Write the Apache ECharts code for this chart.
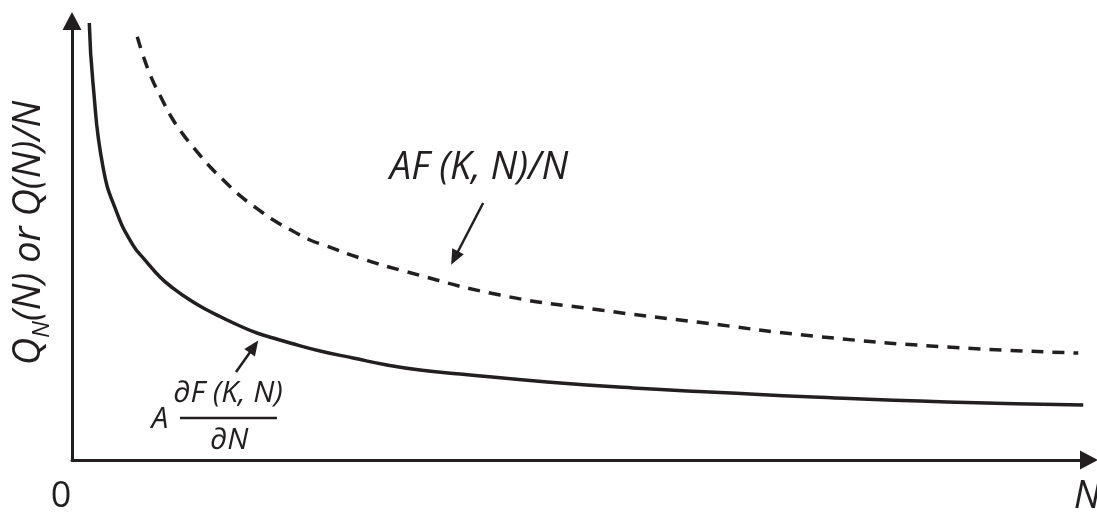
<!DOCTYPE html>
<html>
<head>
<meta charset="utf-8">
<script src="https://cdn.jsdelivr.net/npm/echarts@6/dist/echarts.min.js"></script>
<style>
html,body{margin:0;padding:0;background:#fff;}
#chart{width:1097px;height:515px;}
</style>
</head>
<body>
<div id="chart"></div>
<script>
// Marginal product curve: A dF(K,N)/dN  (x = N, y = value)
const solidX = [1.69, 2.05, 3.03, 4.40, 5.96, 7.14, 8.60, 9.87, 11.53, 13.20, 14.76, 16.42, 18.08, 19.65, 21.31, 24.24, 27.47, 30.79, 34.02, 37.93, 46.43, 54.84, 63.34, 72.43, 85.53, 98.83];
const solidY = [97.54, 84.15, 65.40, 55.13, 47.99, 44.64, 40.85, 38.39, 35.71, 33.48, 31.70, 29.91, 28.35, 27.23, 26.12, 24.33, 22.77, 21.21, 20.09, 19.20, 17.41, 16.07, 15.07, 14.06, 12.95, 12.28];
// Average product curve: AF(K,N)/N
const dashX = [6.38, 7.04, 7.79, 8.67, 9.65, 10.78, 12.09, 13.49, 14.96, 16.42, 18.05, 19.68, 21.53, 23.26, 24.90, 28.15, 32.06, 41.84, 51.61, 61.09, 72.43, 85.53, 98.34];
const dashY = [94.49, 89.67, 85.20, 81.09, 76.79, 72.92, 69.20, 65.47, 62.12, 59.00, 56.18, 53.57, 51.18, 49.11, 47.77, 45.09, 42.41, 36.83, 33.48, 30.80, 27.68, 25.22, 23.88];
// annotation arrows [tailX, tailY, headX, headY] in data units
const arrowDash = [40.18, 57.37, 37.39, 45.09];
const arrowSolid = [16.03, 19.64, 17.78, 25.29];
const labelDash = 'AF (K, N)/N';
const labelSolidNum = '∂F (K, N)';
const labelSolidDen = '∂N';
const xAxisLabel = 'N';
const originLabel = '0';

const INK = '#231f20';
const FONT = '"Open Sans", "DejaVu Sans", sans-serif';

const chart = echarts.init(document.getElementById('chart'), null, {renderer: 'canvas'});

function pairs(xs, ys){ return xs.map((x,i)=>[x, ys[i]]); }
function arrowML(a){
  return {
    silent: true,
    symbol: ['none', 'triangle'],
    symbolSize: [13, 15],
    label: {show: false},
    lineStyle: {color: INK, width: 2.5, type: 'solid'},
    emphasis: {disabled: true},
    data: [[{coord: [a[0], a[1]]}, {coord: [a[2], a[3]]}]]
  };
}

chart.setOption({
  animation: false,
  backgroundColor: '#fff',
  grid: {left: 72, right: 12, top: 21, bottom: 55},
  xAxis: {
    type: 'value', min: 0, max: 99,
    axisLine: {show: true, lineStyle: {color: INK, width: 3}, symbol: ['none', 'triangle'], symbolSize: [19, 18], symbolOffset: [0, 4]},
    axisTick: {show: false}, axisLabel: {show: false}, splitLine: {show: false}
  },
  yAxis: {
    type: 'value', min: 0, max: 98,
    axisLine: {show: true, lineStyle: {color: INK, width: 3}, symbol: ['none', 'triangle'], symbolSize: [19, 18]},
    axisTick: {show: false}, axisLabel: {show: false}, splitLine: {show: false}
  },
  series: [
    {
      type: 'line', name: 'MPN', data: pairs(solidX, solidY), smooth: 0.5,
      showSymbol: false, clip: false,
      lineStyle: {color: INK, width: 3.5},
      markLine: arrowML(arrowSolid)
    },
    {
      type: 'line', name: 'APN', data: pairs(dashX, dashY), smooth: 0.5,
      showSymbol: false, clip: false,
      lineStyle: {color: INK, width: 3.5, type: [12, 9]},
      markLine: arrowML(arrowDash)
    }
  ],
  graphic: [
    {
      type: 'text', x: 29, y: 233, rotation: Math.PI / 2,
      style: {
        text: '{m|Q}{s|N}{m|(N) or Q(N)/N}',
        align: 'center', verticalAlign: 'middle', fill: INK,
        rich: {
          m: {fontFamily: FONT, fontStyle: 'italic', fontSize: 38, fill: INK, lineHeight: 44, verticalAlign: 'middle'},
          s: {fontFamily: FONT, fontStyle: 'italic', fontSize: 24, fill: INK, lineHeight: 50, verticalAlign: 'bottom'}
        }
      }
    },
    {
      type: 'text', x: 479, y: 168,
      style: {text: labelDash, font: 'italic 38px ' + FONT, fill: INK, align: 'center', verticalAlign: 'middle'}
    },
    {
      type: 'text', x: 160, y: 419,
      style: {text: 'A', font: 'italic 30px ' + FONT, fill: INK, align: 'center', verticalAlign: 'middle'}
    },
    {
      type: 'text', x: 228, y: 393,
      style: {text: labelSolidNum, font: 'italic 30px ' + FONT, fill: INK, align: 'center', verticalAlign: 'middle'}
    },
    {
      type: 'line', shape: {x1: 180, y1: 418, x2: 277, y2: 418},
      style: {stroke: INK, lineWidth: 2.5}
    },
    {
      type: 'text', x: 229, y: 440,
      style: {text: labelSolidDen, font: 'italic 30px ' + FONT, fill: INK, align: 'center', verticalAlign: 'middle'}
    },
    {
      type: 'text', x: 61, y: 497,
      style: {text: originLabel, font: '36px ' + FONT, fill: INK, align: 'center', verticalAlign: 'middle'}
    },
    {
      type: 'text', x: 1087, y: 497,
      style: {text: xAxisLabel, font: 'italic 38px ' + FONT, fill: INK, align: 'center', verticalAlign: 'middle'}
    }
  ]
});
</script>
</body>
</html>
